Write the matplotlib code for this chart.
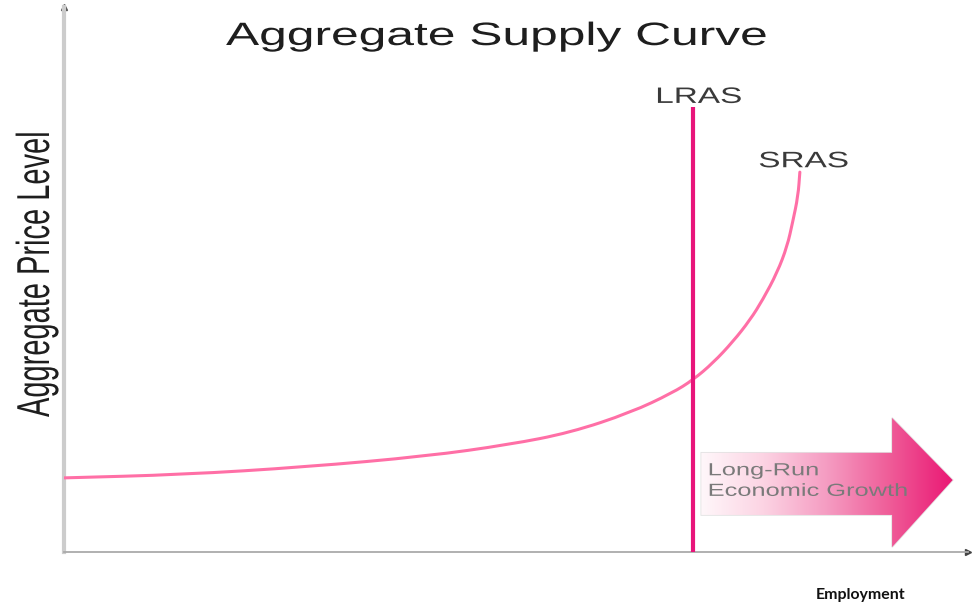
import numpy as np
import matplotlib
matplotlib.use("Agg")
import matplotlib.pyplot as plt
from matplotlib.colors import LinearSegmentedColormap
from matplotlib.patches import Polygon, PathPatch
from matplotlib.path import Path
from matplotlib.patheffects import AbstractPathEffect
from matplotlib.transforms import Affine2D

# SRAS curve (employment on 0-100, price level on 0-100)
employment = [0, 13.1, 26.7, 40.2, 49.2, 56.0, 62.7, 67.3, 69.6, 71.8,
              74.0, 75.9, 77.3, 78.9, 80.0, 80.6, 81.2, 81.4]
price = [13.6, 14.2, 15.6, 17.6, 19.7, 21.9, 25.6, 29.2, 31.6, 34.7,
         38.6, 42.6, 46.3, 51.3, 56.1, 60.5, 65.3, 69.7]

# long-run supply: vertical at potential output
lras_x = 69.6
lras_top = 81.6

title = "Aggregate Supply Curve"
y_label = "Aggregate Price Level"
x_label = "Employment"
arrow_text = "Long-Run\nEconomic Growth"


class Squash(AbstractPathEffect):
    """scale glyphs perpendicular to the baseline (the source image is stretched)"""

    def __init__(self, sy):
        super().__init__()
        self.sy = sy

    def draw_path(self, renderer, gc, tpath, affine, rgbFace=None):
        renderer.draw_path(gc, tpath, Affine2D().scale(1, self.sy) + affine, rgbFace)


def smooth_path(xs, ys):
    # quadratic bezier through segment midpoints, so the curve has no kinks
    p = np.column_stack([xs, ys])
    verts = [p[0], (p[0] + p[1]) / 2]
    codes = [Path.MOVETO, Path.LINETO]
    for i in range(1, len(p) - 1):
        verts += [p[i], (p[i] + p[i + 1]) / 2]
        codes += [Path.CURVE3, Path.CURVE3]
    verts.append(p[-1])
    codes.append(Path.LINETO)
    return Path(verts, codes)


W, H = 974, 607
fig = plt.figure(figsize=(W / 100, H / 100), dpi=100)
ax = fig.add_axes([64 / W, 1 - 552 / H, (968 - 64) / W, (552 - 7) / H])
ax.set_xlim(0, 100)
ax.set_ylim(0, 100)
ax.set_xticks([])
ax.set_yticks([])
for s in ["top", "right"]:
    ax.spines[s].set_visible(False)
ax.spines["left"].set_color("#cccccc")
ax.spines["left"].set_linewidth(3)
ax.spines["bottom"].set_color("#aaaaaa")
ax.spines["bottom"].set_linewidth(1.3)
ax.plot([1], [0], marker=">", ms=4, color="#444444", transform=ax.transAxes, clip_on=False)
ax.plot([0], [1], marker="^", ms=4, color="#555555", transform=ax.transAxes, clip_on=False)

# SRAS
sras = PathPatch(smooth_path(employment, price), facecolor="none",
                 edgecolor="#ff6fa6", lw=2.2, capstyle="round", zorder=4)
ax.add_patch(sras)

# LRAS
ax.plot([lras_x, lras_x], [0, lras_top], color="#e8157a", lw=3, zorder=5,
        solid_capstyle="butt")

ax.text(65.4, 82.4, "LRAS", fontsize=24, family="Liberation Sans", color="#3a3a3a",
        ha="left", va="baseline", path_effects=[Squash(0.67)])
ax.text(76.8, 70.6, "SRAS", fontsize=24, family="Liberation Sans", color="#3a3a3a",
        ha="left", va="baseline", path_effects=[Squash(0.67)])

# growth arrow with gradient fill
arrow_xy = [(70.5, 18.2), (91.6, 18.2), (91.6, 24.6), (98.3, 13.2),
            (91.6, 0.9), (91.6, 6.8), (70.5, 6.8)]
outline = Polygon(arrow_xy, closed=True, facecolor="none", edgecolor="#e2e2e2",
                  lw=1.2, zorder=2)
ax.add_patch(outline)
clip = Polygon(arrow_xy, closed=True, facecolor="none", edgecolor="none",
               transform=ax.transData)
arrow_cmap = LinearSegmentedColormap.from_list(
    "arrow", ["#fff7fa", "#fcd3e3", "#f59cc2", "#ef5c98", "#ea1874"])
grad = np.linspace(0, 1, 256).reshape(1, -1)
im = ax.imshow(grad, cmap=arrow_cmap, extent=[70.5, 98.3, 0.9, 24.6],
               aspect="auto", zorder=3, interpolation="bilinear")
im.set_clip_path(clip)
ax.set_xlim(0, 100)
ax.set_ylim(0, 100)

ax.text(71.2, 10.3, arrow_text, fontsize=18.3, family="Liberation Sans",
        color="#7a7a7a", ha="left", va="baseline", linespacing=0.82, zorder=6,
        path_effects=[Squash(0.69)])

# title, axis labels
fig.text(226 / W, 1 - 45 / H, title, fontsize=35.8, family="Liberation Sans",
         color="#1e1e1e", ha="left", va="baseline", path_effects=[Squash(0.65)])
fig.text(49 / W, 1 - 417 / H, y_label, fontsize=20.9, family="Liberation Sans",
         color="#1e1e1e", rotation=90, rotation_mode="anchor", ha="left",
         va="baseline", path_effects=[Squash(1.59)])
fig.text(816 / W, 1 - 599 / H, x_label, fontsize=11.4, family="Lato",
         fontweight="bold", color="#111111", ha="left", va="baseline")

fig.savefig("out.png", dpi=100)
